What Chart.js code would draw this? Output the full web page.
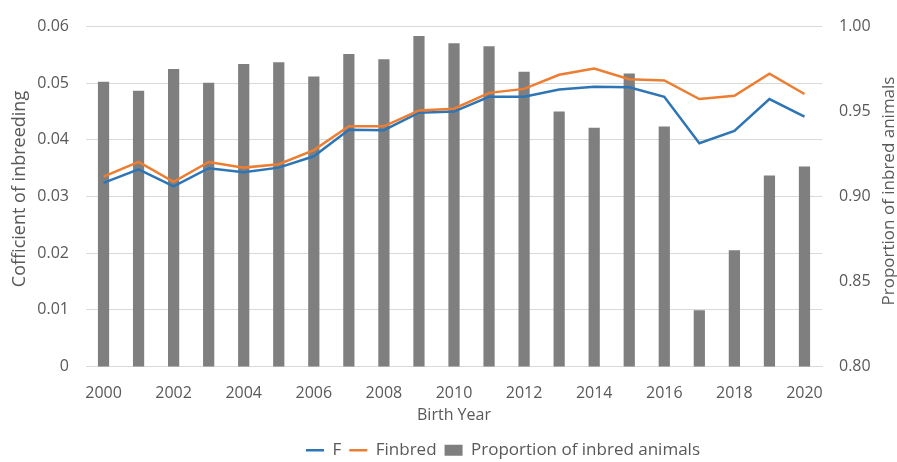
<!DOCTYPE html>
<html>
<head>
<meta charset="utf-8">
<script src="https://cdn.jsdelivr.net/npm/chart.js@4/dist/chart.umd.min.js"></script>
<style>
  html, body { margin: 0; padding: 0; background: #ffffff; }
  #wrap { width: 897px; height: 462px; position: relative; }
</style>
</head>
<body>
<div id="wrap"><canvas id="c" width="897" height="462"></canvas></div>
<script>
const years = ['2000','2001','2002','2003','2004','2005','2006','2007','2008','2009','2010',
               '2011','2012','2013','2014','2015','2016','2017','2018','2019','2020'];
const fValues = [0.0324,0.0348,0.0318,0.0350,0.0343,0.0351,0.0371,0.0418,0.0417,0.0448,0.0450,
                 0.0476,0.0476,0.0489,0.0494,0.0493,0.0476,0.0394,0.0416,0.0472,0.0441];
const finbredValues = [0.0335,0.0361,0.0326,0.0361,0.0351,0.0357,0.0382,0.0424,0.0424,0.0452,0.0455,
                       0.0483,0.0490,0.0515,0.0526,0.0507,0.0505,0.0472,0.0478,0.0517,0.0481];
const proportionValues = [0.9676,0.9623,0.9750,0.9670,0.9780,0.9790,0.9707,0.9838,0.9808,0.9945,0.9902,
                          0.9885,0.9734,0.9501,0.9404,0.9724,0.9412,0.8330,0.8684,0.9124,0.9177];
const seriesNames = ['F', 'Finbred', 'Proportion of inbred animals'];
const xTitle = 'Birth Year';
const leftTitle = 'Cofficient of inbreeding';
const rightTitle = 'Proportion of inbred animals';

const FONT = "'Open Sans', sans-serif";
const TXT = '#595959';
const LEG_PAD = 8;
const LEG_FONT = 17;

function drawText(ctx, text, x, y, size, rot) {
  ctx.save();
  ctx.fillStyle = TXT;
  ctx.font = size + "px " + FONT;
  ctx.textAlign = 'center';
  ctx.textBaseline = 'middle';
  ctx.translate(x, y);
  if (rot) ctx.rotate(rot);
  ctx.fillText(text, 0, 0);
  ctx.restore();
}

const extraText = {
  id: 'extraText',
  afterLayout(chart) {
    const lg = chart.legend;
    if (!lg) return;
    const dx = 306 - (lg.left + LEG_PAD);
    const dy = 452 - (lg.top + LEG_PAD + LEG_FONT * 1.2 / 2);
    lg.left += dx; lg.right += dx;
    lg.top += dy; lg.bottom += dy;
  },
  afterDraw(chart) {
    const ctx = chart.ctx;
    const area = chart.chartArea;
    drawText(ctx, leftTitle, 20, 189, 18, -Math.PI / 2);
    drawText(ctx, rightTitle, 889, 191, 17, -Math.PI / 2);
    drawText(ctx, xTitle, (area.left + area.right) / 2, 415, 16, 0);
  }
};

new Chart(document.getElementById('c'), {
  type: 'bar',
  data: {
    labels: years,
    datasets: [
      { type: 'line', label: seriesNames[0], data: fValues, yAxisID: 'y',
        borderColor: '#2E75B6', backgroundColor: '#2E75B6', borderWidth: 2.5,
        pointRadius: 0, pointHoverRadius: 0, pointStyle: 'line', tension: 0, order: 1 },
      { type: 'line', label: seriesNames[1], data: finbredValues, yAxisID: 'y',
        borderColor: '#ED7D31', backgroundColor: '#ED7D31', borderWidth: 2.5,
        pointRadius: 0, pointHoverRadius: 0, pointStyle: 'line', tension: 0, order: 0 },
      { type: 'bar', label: seriesNames[2], data: proportionValues, yAxisID: 'y1',
        backgroundColor: '#7F7F7F', borderWidth: 0, pointStyle: 'rect',
        barPercentage: 0.32, categoryPercentage: 1.0, order: 2 }
    ]
  },
  options: {
    responsive: false,
    animation: false,
    devicePixelRatio: 1,
    layout: { padding: { top: 24, left: 0, right: 0, bottom: 0 } },
    plugins: {
      tooltip: { enabled: false },
      legend: {
        position: 'bottom',
        align: 'start',
        labels: {
          color: TXT,
          font: { family: FONT, size: LEG_FONT },
          usePointStyle: true,
          pointStyleWidth: 18,
          boxHeight: 11,
          padding: LEG_PAD,
          sort: function(a, b) { return a.datasetIndex - b.datasetIndex; }
        }
      }
    },
    scales: {
      x: {
        offset: true,
        grid: { display: false, drawTicks: false },
        border: { display: true, color: '#D9D9D9', width: 1 },
        ticks: {
          color: TXT, font: { family: FONT, size: 16 }, padding: 17,
          autoSkip: false, maxRotation: 0,
          callback: function(v, i) { return i % 2 === 0 ? years[i] : ''; }
        },
        afterFit: function(s) { s.height = 462 - 365 - (2 * LEG_PAD + LEG_FONT * 1.2); }
      },
      y: {
        position: 'left',
        min: 0, max: 0.06,
        grid: { color: '#D9D9D9', lineWidth: 1, drawTicks: false },
        border: { display: false },
        ticks: {
          stepSize: 0.01, color: TXT, font: { family: FONT, size: 16 }, padding: 17,
          callback: function(v) { return v === 0 ? '0' : Number(v).toFixed(2); }
        },
        afterFit: function(s) { s.width = 86; }
      },
      y1: {
        position: 'right',
        min: 0.80, max: 1.00,
        grid: { display: false, drawTicks: false },
        border: { display: false },
        ticks: {
          stepSize: 0.05, color: TXT, font: { family: FONT, size: 16 }, padding: 17,
          callback: function(v) { return Number(v).toFixed(2); }
        },
        afterFit: function(s) { s.width = 75; }
      }
    }
  },
  plugins: [extraText]
});
</script>
</body>
</html>
